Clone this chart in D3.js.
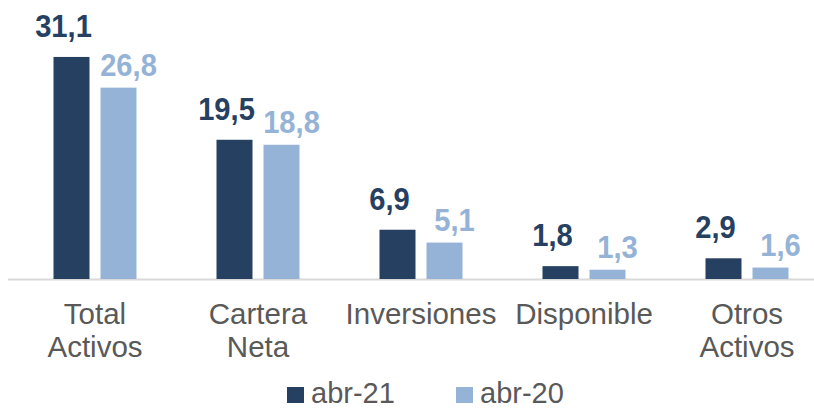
<!DOCTYPE html>
<html>
<head>
<meta charset="utf-8">
<script src="https://cdn.jsdelivr.net/npm/d3@7"></script>
<style>
  body { margin: 0; background: #fff; }
  svg { display: block; font-family: Arial, "Liberation Sans", sans-serif; }
</style>
</head>
<body>
<svg width="814" height="408"></svg>
<script>
// data
var categories = [["Total", "Activos"], ["Cartera", "Neta"], ["Inversiones"], ["Disponible"], ["Otros", "Activos"]];
var series = ["abr-21", "abr-20"];
var abr21 = [31.1, 19.5, 6.9, 1.8, 2.9];
var abr20 = [26.8, 18.8, 5.1, 1.3, 1.6];
var colors = ["#264061", "#95B3D7"];

var svg = d3.select("svg");
var baseY = 279;

var x0 = d3.scaleBand()
  .domain(d3.range(categories.length))
  .range([13.5, 828.5])
  .padding(0);

var x1 = d3.scaleBand()
  .domain(series)
  .range([0, x0.bandwidth()])
  .paddingInner(11 / 47)
  .paddingOuter(0.851);

var y = d3.scaleLinear()
  .domain([0, 35])
  .range([baseY, baseY - 35 * 7.14]);

var rows = series.map(function(s, i) {
  var vals = i === 0 ? abr21 : abr20;
  return vals.map(function(v, j) { return { s: s, i: i, cat: j, v: v }; });
});

// axis line
svg.append("line")
  .attr("x1", 8)
  .attr("x2", 814)
  .attr("y1", baseY + 0.5)
  .attr("y2", baseY + 0.5)
  .style("stroke", "#D9D9D9")
  .style("stroke-width", "2px");

var groups = svg.selectAll("g.series")
  .data(rows)
  .enter().append("g")
  .attr("class", "series");

groups.selectAll("rect")
  .data(function(d) { return d; })
  .enter().append("rect")
  .attr("x", function(d) { return x0(d.cat) + x1(d.s); })
  .attr("y", function(d) { return y(d.v); })
  .attr("width", x1.bandwidth())
  .attr("height", function(d) { return baseY - y(d.v); })
  .style("fill", function(d) { return colors[d.i]; });

// value labels
groups.selectAll("text")
  .data(function(d) { return d; })
  .enter().append("text")
  .attr("transform", function(d) {
    var tx = x0(d.cat) + x1(d.s) + x1.bandwidth() / 2 + (d.i === 0 ? -8 : 10);
    var ty = y(d.v) - (d.i === 0 ? 20 : 12);
    return "translate(" + tx + "," + ty + ") scale(0.94,1)";
  })
  .attr("text-anchor", "middle")
  .style("font-size", "31px")
  .style("font-weight", "bold")
  .style("fill", function(d) { return colors[d.i]; })
  .text(function(d) { return d3.format(".1f")(d.v).replace(".", ","); });

// category labels
var catText = svg.selectAll("text.cat")
  .data(categories)
  .enter().append("text")
  .attr("class", "cat")
  .attr("x", function(d, i) { return x0(i) + x0.bandwidth() / 2; })
  .attr("y", 324)
  .attr("text-anchor", "middle")
  .style("font-size", "29.5px")
  .style("fill", "#595959");

catText.selectAll("tspan")
  .data(function(d) { return d; })
  .enter().append("tspan")
  .attr("x", function() { return d3.select(this.parentNode).attr("x"); })
  .attr("dy", function(d, i) { return i === 0 ? 0 : 33; })
  .text(function(d) { return d; });

// legend
var legX = [287, 456];
var leg = svg.selectAll("g.legend")
  .data(series)
  .enter().append("g")
  .attr("class", "legend")
  .attr("transform", function(d, i) { return "translate(" + legX[i] + ",0)"; });

leg.append("rect")
  .attr("x", 0)
  .attr("y", 387)
  .attr("width", 17)
  .attr("height", 16)
  .style("fill", function(d, i) { return colors[i]; });

leg.append("text")
  .attr("x", 24)
  .attr("y", 403)
  .style("font-size", "29px")
  .style("fill", "#595959")
  .text(function(d) { return d; });
</script>
</body>
</html>
